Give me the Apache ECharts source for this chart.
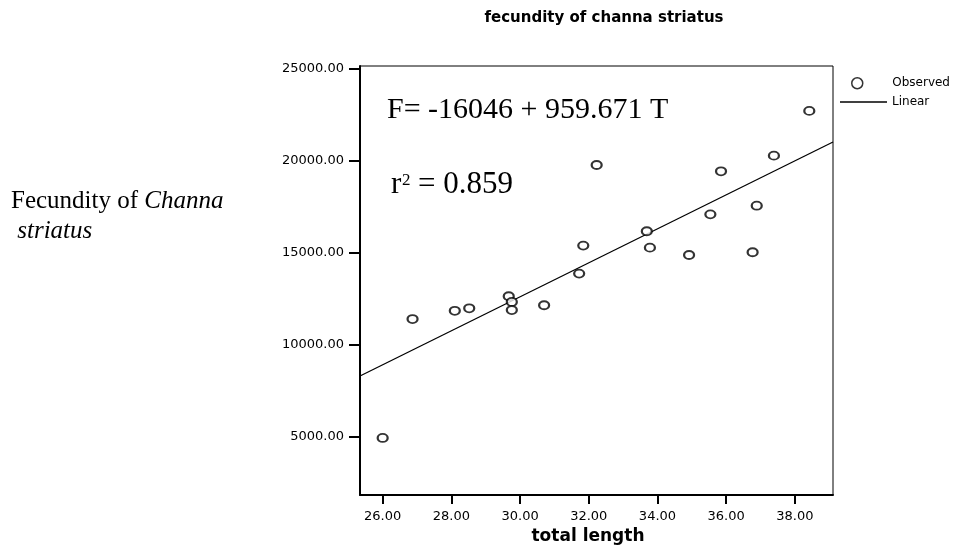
<!DOCTYPE html>
<html>
<head>
<meta charset="utf-8">
<title>fecundity of channa striatus</title>
<script src="https://cdn.jsdelivr.net/npm/echarts@6/dist/echarts.min.js"></script>
<style>
	html, body { margin: 0; padding: 0; background: #fff; }
	#main { width: 966px; height: 552px; }
</style>
</head>
<body>
<div id="main"></div>
<script>
// observed points: total length (x) and fecundity (y)
var lengthVals = [26.0, 26.87, 28.1, 28.52, 29.67, 29.76, 29.76, 30.7, 31.72, 31.84,
	32.23, 33.69, 33.78, 34.92, 35.54, 35.85, 36.77, 36.89, 37.39, 38.42];
var fecundVals = [4950, 11410, 11860, 11995, 12650, 12340, 11900, 12160, 13880, 15400,
	19780, 16180, 15290, 14890, 17100, 19440, 15040, 17570, 20290, 22720];

// fitted line, read at both edges of the plot
var lineX = [25.34, 39.11];
var lineY = [8315, 21030];

var xTicks = [26, 28, 30, 32, 34, 36, 38];
var yTicks = [5000, 10000, 15000, 20000, 25000];

var observed = [];
for (var i = 0; i < lengthVals.length; i++) {
	observed.push([lengthVals[i], fecundVals[i]]);
}
var linear = [];
for (var k = 0; k < lineX.length; k++) {
	linear.push([lineX[k], lineY[k]]);
}

var myChart = echarts.init(document.getElementById('main'));
var sans = 'DejaVu Sans';
var serif = 'Liberation Serif';

var option = {
	backgroundColor: '#fff',
	animation: false,
	title: {
		text: 'fecundity of channa striatus',
		left: 599,
		textAlign: 'center',
		top: 6,
		textStyle: { fontFamily: sans, fontSize: 15, fontWeight: 'bold', color: '#000' }
	},
	legend: [{
		data: [{ name: 'Observed', icon: 'circle' }],
		left: 851,
		top: 77,
		padding: 0,
		itemWidth: 14,
		itemHeight: 11,
		itemStyle: { borderWidth: 1.5, borderColor: '#000', color: '#fff' },
		textStyle: { fontFamily: sans, fontSize: 12, color: '#000', padding: [0, 0, 0, 23] }
	}, {
		data: [{ name: 'Linear', icon: 'rect' }],
		left: 840,
		top: 96,
		padding: 0,
		itemWidth: 47,
		itemHeight: 1.5,
		itemStyle: { color: '#000', borderWidth: 0 },
		textStyle: { fontFamily: sans, fontSize: 12, color: '#000' }
	}],
	grid: {
		left: 360,
		right: 133,
		top: 66,
		bottom: 57,
		show: true,
		borderColor: '#000',
		borderWidth: 1
	},
	xAxis: {
		type: 'value',
		min: 25.34,
		max: 39.11,
		name: 'total length',
		nameLocation: 'middle',
		nameGap: 33,
		nameTextStyle: { fontFamily: sans, fontSize: 17, fontWeight: 'bold', color: '#000', padding: [0, 17, 0, 0] },
		splitLine: { show: false },
		axisLine: { lineStyle: { color: '#000', width: 2 } },
		axisTick: { customValues: xTicks, length: 9, lineStyle: { color: '#000', width: 2 } },
		axisLabel: {
			customValues: xTicks,
			margin: 15,
			fontFamily: sans,
			fontSize: 13,
			color: '#000',
			formatter: function (v) { return v.toFixed(2); }
		}
	},
	yAxis: {
		type: 'value',
		min: 1850,
		max: 25160,
		splitLine: { show: false },
		axisLine: { show: true, lineStyle: { color: '#000', width: 2 } },
		axisTick: { show: true, customValues: yTicks, length: 11, lineStyle: { color: '#000', width: 2 } },
		axisLabel: {
			customValues: yTicks,
			margin: 16,
			fontFamily: sans,
			fontSize: 13,
			color: '#000',
			formatter: function (v) { return v.toFixed(2); }
		}
	},
	series: [{
		name: 'Observed',
		type: 'scatter',
		data: observed,
		symbol: 'emptyCircle',
		symbolSize: [10, 8],
		itemStyle: { color: '#000', borderColor: '#000', borderWidth: 1.5 },
		z: 3
	}, {
		name: 'Linear',
		type: 'line',
		data: linear,
		symbol: 'none',
		lineStyle: { color: '#000', width: 1.3 },
		itemStyle: { color: '#000' },
		z: 2
	}],
	graphic: [{
		type: 'text',
		left: 387,
		top: 95,
		style: { text: 'F= -16046 + 959.671 T', font: '30px "Liberation Serif"', fill: '#000' }
	}, {
		type: 'text',
		left: 391,
		top: 169,
		style: { text: 'r', font: '31px "Liberation Serif"', fill: '#000' }
	}, {
		type: 'text',
		left: 402,
		top: 172,
		style: { text: '2', font: '17px "Liberation Serif"', fill: '#000' }
	}, {
		type: 'text',
		left: 418,
		top: 169,
		style: { text: '= 0.859', font: '31px "Liberation Serif"', fill: '#000' }
	}, {
		type: 'text',
		left: 11,
		top: 189,
		style: {
			text: '{n|Fecundity of }{i|Channa}\n{i| striatus}',
			rich: {
				n: { fontFamily: serif, fontSize: 25, color: '#000', lineHeight: 30 },
				i: { fontFamily: serif, fontSize: 25, fontStyle: 'italic', color: '#000', lineHeight: 30 }
			}
		}
	}]
};
myChart.setOption(option);
</script>
</body>
</html>
